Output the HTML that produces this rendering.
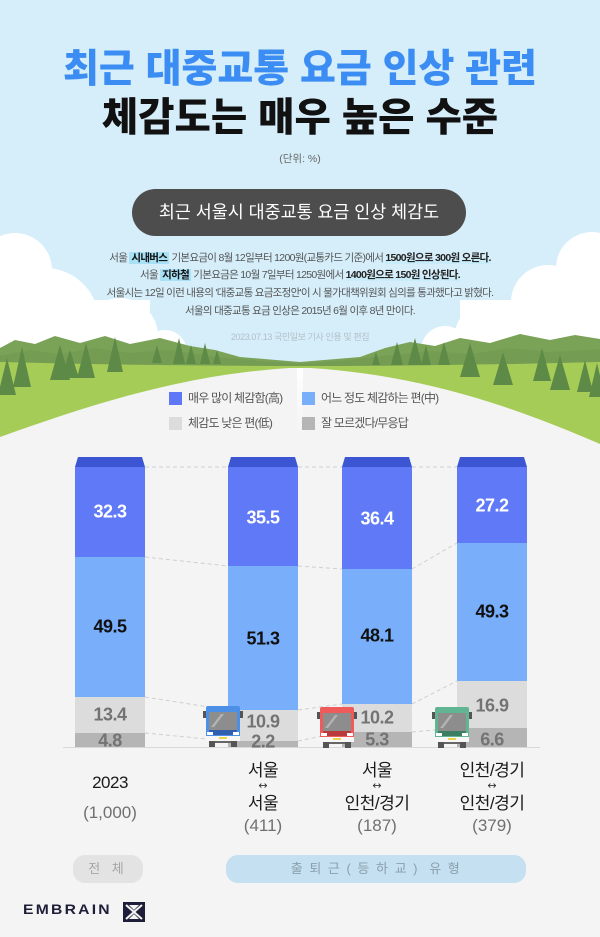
<!DOCTYPE html>
<html><head><meta charset="utf-8">
<style>
*{margin:0;padding:0;box-sizing:border-box}
html,body{width:600px;height:937px;overflow:hidden;background:#f4f4f4}
body{position:relative;font-family:"Liberation Sans","Noto Sans CJK KR",sans-serif}
.a{position:absolute;white-space:nowrap}
.c{left:0;width:600px;text-align:center}
.t1{top:50px;height:39px;line-height:39px;font-size:39px;font-weight:900;letter-spacing:0;color:#3b8df3}
.t2{top:98px;height:40px;line-height:40px;font-size:39.5px;font-weight:900;letter-spacing:0;color:#111}
.unit{top:152px;height:14px;line-height:14px;font-size:10.5px;color:#666}
.pill{left:132px;top:189px;width:334px;height:47px;border-radius:24px;background:#4d4d4d;color:#fff;font-size:17.4px;line-height:47px;text-align:center;letter-spacing:0}
.p{height:14px;line-height:14px;font-size:10.5px;color:#555;letter-spacing:-0.7px}
.p b{color:#222;font-weight:700}
.hl{background:#a8e0f6;padding:0 2px;color:#111;font-weight:700}
.ul{background:linear-gradient(transparent 62%,#c9ecfa 62%)}
.src{top:331px;height:12px;line-height:12px;font-size:9px;color:#b3c0c8;letter-spacing:-0.4px}
.lg{font-size:12px;color:#555;letter-spacing:-0.8px;height:14px;line-height:14px}
.cat{font-size:17px;color:#1a1a1a;text-align:center;width:120px;letter-spacing:-0.5px;height:20px;line-height:20px}
.num{font-size:17px;color:#707070;text-align:center;width:120px;height:20px;line-height:20px}
.arr{font-size:11px;color:#333;text-align:center;width:120px;height:12px;line-height:12px;font-family:"DejaVu Sans",sans-serif}
.fp{height:28px;line-height:28px;border-radius:12px;text-align:center;font-size:13px}
</style></head><body>
<svg class="a" style="left:0;top:0" width="600" height="937" viewBox="0 0 600 937">
<defs>
<linearGradient id="rg" x1="0" y1="0" x2="0" y2="1">
<stop offset="0" stop-color="#ffffff" stop-opacity="0.95"/>
<stop offset="1" stop-color="#ffffff" stop-opacity="0"/>
</linearGradient>
</defs>
<rect width="600" height="937" fill="#f4f4f4"/>
<rect width="600" height="445" fill="#d5eefa"/>
<g fill="#ffffff">
<circle cx="15" cy="270" r="37"/>
<circle cx="45" cy="322" r="54"/>
<circle cx="120" cy="336" r="38"/>
<circle cx="165" cy="352" r="22"/>
<rect x="0" y="300" width="150" height="80"/>
<circle cx="592" cy="268" r="36"/>
<circle cx="548" cy="302" r="37"/>
<circle cx="485" cy="335" r="30"/>
<circle cx="445" cy="350" r="24"/>
<rect x="460" y="300" width="140" height="80"/>
</g>
<path d="M0,348 L15,340 35,344 55,336 80,343 105,336 130,344 160,338 190,346 215,350 240,357 300,362 360,357 385,348 410,342 435,346 460,338 490,343 520,334 550,340 575,335 600,339 L600,380 L0,380 Z" fill="#7aa358"/>
<path d="M0,356 L30,350 60,354 95,348 130,353 170,350 210,356 250,360 300,364 350,360 390,355 430,351 470,354 510,348 550,352 600,349 L600,380 L0,380 Z" fill="#6f9a50" opacity="0.6"/>
<path d="M0,362 Q300,370 600,362 L600,470 L0,470 Z" fill="#a6cc58"/>
<g fill="#5e8a47">
<polygon points="7,358 -2,395 16,395"/>
<polygon points="22,347 13,387 31,387"/>
<polygon points="60,345 50,380 70,380"/>
<polygon points="70,350 61,378 79,378"/>
<polygon points="86,343 77,378 95,378"/>
<polygon points="115,337 107,372 123,372"/>
<polygon points="157,345 152,363 162,363"/>
<polygon points="179,338 173,364 185,364"/>
<polygon points="191,345 186,364 196,364"/>
<polygon points="205,343 200,364 210,364"/>
<polygon points="217,350 213,364 221,364"/>
<polygon points="376,352 372,365 380,365"/>
<polygon points="397,342 391,365 403,365"/>
<polygon points="415,338 408,365 422,365"/>
<polygon points="426,345 421,365 431,365"/>
<polygon points="444,342 438,365 450,365"/>
<polygon points="470,343 460,377 480,377"/>
<polygon points="503,352 493,385 513,385"/>
<polygon points="542,348 533,381 551,381"/>
<polygon points="560,355 550,390 570,390"/>
<polygon points="585,360 577,392 593,392"/>
<polygon points="597,363 589,397 605,397"/>
</g>
<path d="M0,437 C90,405 180,375 290,368 L310,368 C420,375 510,405 600,444 L600,937 L0,937 Z" fill="#f4f4f4"/>
<rect x="297" y="368" width="6" height="70" fill="url(#rg)"/>

<rect x="169" y="392" width="13" height="13" fill="#5f77f6"/>
<rect x="302" y="392" width="13" height="13" fill="#78aefa"/>
<rect x="169" y="417" width="13" height="13" fill="#dcdcdc"/>
<rect x="302" y="417" width="13" height="13" fill="#b5b5b5"/>

<g stroke="#cfcfcf" stroke-width="1" stroke-dasharray="4 3" fill="none">
<line x1="145" y1="467" x2="228" y2="467"/>
<line x1="145" y1="557" x2="228" y2="566"/>
<line x1="145" y1="697" x2="228" y2="710"/>
<line x1="145" y1="733" x2="228" y2="741"/>
<line x1="298" y1="467" x2="342" y2="467"/>
<line x1="298" y1="566" x2="342" y2="569"/>
<line x1="298" y1="710" x2="342" y2="704"/>
<line x1="298" y1="741" x2="342" y2="732"/>
<line x1="412" y1="467" x2="457" y2="467"/>
<line x1="412" y1="569" x2="457" y2="543"/>
<line x1="412" y1="704" x2="457" y2="681"/>
<line x1="412" y1="732" x2="457" y2="728"/>
</g>
<line x1="63" y1="747.5" x2="540" y2="747.5" stroke="#d8d8d8" stroke-width="1"/>

<g>
<polygon points="78,457 142,457 145,467 75,467" fill="#3b55d3"/>
<rect x="75" y="467" width="70" height="90" fill="#6079f7"/>
<rect x="75" y="557" width="70" height="140" fill="#78aefa"/>
<rect x="75" y="697" width="70" height="36" fill="#dcdcdc"/>
<rect x="75" y="733" width="70" height="14" fill="#b5b5b5"/>

<polygon points="231,457 295,457 298,467 228,467" fill="#3b55d3"/>
<rect x="228" y="467" width="70" height="99" fill="#6079f7"/>
<rect x="228" y="566" width="70" height="144" fill="#78aefa"/>
<rect x="228" y="710" width="70" height="31" fill="#dcdcdc"/>
<rect x="228" y="741" width="70" height="6" fill="#b5b5b5"/>

<polygon points="345,457 409,457 412,467 342,467" fill="#3b55d3"/>
<rect x="342" y="467" width="70" height="102" fill="#6079f7"/>
<rect x="342" y="569" width="70" height="135" fill="#78aefa"/>
<rect x="342" y="704" width="70" height="28" fill="#dcdcdc"/>
<rect x="342" y="732" width="70" height="15" fill="#b5b5b5"/>

<polygon points="460,457 524,457 527,467 457,467" fill="#3b55d3"/>
<rect x="457" y="467" width="70" height="76" fill="#6079f7"/>
<rect x="457" y="543" width="70" height="138" fill="#78aefa"/>
<rect x="457" y="681" width="70" height="47" fill="#dcdcdc"/>
<rect x="457" y="728" width="70" height="19" fill="#b5b5b5"/>
</g>

<g font-family="Liberation Sans, sans-serif" font-weight="bold" font-size="18" text-anchor="middle" letter-spacing="-0.5">
<text x="110" y="517.5" fill="#ffffff">32.3</text>
<text x="110" y="632.5" fill="#111111">49.5</text>
<text x="110" y="720.5" fill="#737373">13.4</text>
<text x="110" y="746.5" fill="#737373">4.8</text>
<text x="263" y="523.5" fill="#ffffff">35.5</text>
<text x="263" y="644.5" fill="#111111">51.3</text>
<text x="263" y="727.5" fill="#737373">10.9</text>
<text x="263" y="747.5" fill="#737373">2.2</text>
<text x="377" y="524.5" fill="#ffffff">36.4</text>
<text x="377" y="641.5" fill="#111111">48.1</text>
<text x="377" y="723.5" fill="#737373">10.2</text>
<text x="377" y="745.5" fill="#737373">5.3</text>
<text x="492" y="511.5" fill="#ffffff">27.2</text>
<text x="492" y="617.5" fill="#111111">49.3</text>
<text x="492" y="711.5" fill="#737373">16.9</text>
<text x="492" y="745.5" fill="#737373">6.6</text>
</g>

<g transform="translate(203,706)">
<rect x="0" y="5" width="3" height="7" fill="#555"/><rect x="37" y="5" width="3" height="7" fill="#555"/>
<rect x="3" y="0" width="34" height="35" rx="2" fill="#4b8fe6"/>
<rect x="6" y="6" width="28" height="18" fill="#8d8d8d"/>
<path d="M8,21 L18,8 L21,8 L11,21Z" fill="#b3b3b3"/>
<rect x="6" y="24" width="28" height="5" fill="#2f5fae"/>
<rect x="4" y="26" width="6" height="3" fill="#fff"/><rect x="30" y="26" width="6" height="3" fill="#fff"/>
<rect x="3" y="30" width="34" height="5" fill="#f7f7f7"/>
<rect x="16" y="31" width="8" height="2" fill="#eed24a"/>
<rect x="6" y="35" width="28" height="2" fill="#666"/>
<rect x="6" y="35" width="6" height="6" fill="#555"/><rect x="28" y="35" width="6" height="6" fill="#555"/>
</g>
<g transform="translate(317,707)">
<rect x="0" y="5" width="3" height="7" fill="#555"/><rect x="37" y="5" width="3" height="7" fill="#555"/>
<rect x="3" y="0" width="34" height="35" rx="2" fill="#ef5b5b"/>
<rect x="6" y="6" width="28" height="18" fill="#8d8d8d"/>
<path d="M8,21 L18,8 L21,8 L11,21Z" fill="#b3b3b3"/>
<rect x="6" y="24" width="28" height="5" fill="#b83a3a"/>
<rect x="4" y="26" width="6" height="3" fill="#fff"/><rect x="30" y="26" width="6" height="3" fill="#fff"/>
<rect x="3" y="30" width="34" height="5" fill="#f7f7f7"/>
<rect x="16" y="31" width="8" height="2" fill="#eed24a"/>
<rect x="6" y="35" width="28" height="2" fill="#666"/>
<rect x="6" y="35" width="6" height="6" fill="#555"/><rect x="28" y="35" width="6" height="6" fill="#555"/>
</g>
<g transform="translate(432,707)">
<rect x="0" y="5" width="3" height="7" fill="#555"/><rect x="37" y="5" width="3" height="7" fill="#555"/>
<rect x="3" y="0" width="34" height="35" rx="2" fill="#62b592"/>
<rect x="6" y="6" width="28" height="18" fill="#8d8d8d"/>
<path d="M8,21 L18,8 L21,8 L11,21Z" fill="#b3b3b3"/>
<rect x="6" y="24" width="28" height="5" fill="#3c7e62"/>
<rect x="4" y="26" width="6" height="3" fill="#fff"/><rect x="30" y="26" width="6" height="3" fill="#fff"/>
<rect x="3" y="30" width="34" height="5" fill="#f7f7f7"/>
<rect x="16" y="31" width="8" height="2" fill="#eed24a"/>
<rect x="6" y="35" width="28" height="2" fill="#666"/>
<rect x="6" y="35" width="6" height="6" fill="#555"/><rect x="28" y="35" width="6" height="6" fill="#555"/>
</g>

<g transform="translate(123,902)">
<rect x="0" y="0" width="22" height="20" fill="#1e1e38"/>
<path d="M3,3 L19,17 M19,3 L3,17" stroke="#f4f4f4" stroke-width="2"/>
<path d="M6,3 L16,3 L11,8Z" fill="#f4f4f4"/>
<path d="M6,17 L16,17 L11,12Z" fill="#f4f4f4"/>
</g>
</svg>

<div class="a c t1">최근 대중교통 요금 인상 관련</div>
<div class="a c t2">체감도는 매우 높은 수준</div>
<div class="a c unit">(단위: %)</div>
<div class="a pill">최근 서울시 대중교통 요금 인상 체감도</div>

<div class="a c p" style="top:251px">서울 <span class="hl">시내버스</span> 기본요금이 8월 12일부터 1200원(교통카드 기준)에서 <b class="ul">1500원으로 300원 오른다.</b></div>
<div class="a c p" style="top:268px">서울 <span class="hl">지하철</span> 기본요금은 10월 7일부터 1250원에서 <b class="ul">1400원으로 150원 인상된다.</b></div>
<div class="a c p" style="top:286px">서울시는 12일 이런 내용의 '대중교통 요금조정안'이 시 물가대책위원회 심의를 통과했다고 밝혔다.</div>
<div class="a c p" style="top:304px">서울의 대중교통 요금 인상은 2015년 6월 이후 8년 만이다.</div>
<div class="a c src">2023.07.13 국민일보 기사 인용 및 편집</div>

<div class="a lg" style="left:188px;top:391px">매우 많이 체감함(高)</div>
<div class="a lg" style="left:321px;top:391px">어느 정도 체감하는 편(中)</div>
<div class="a lg" style="left:188px;top:416px">체감도 낮은 편(低)</div>
<div class="a lg" style="left:321px;top:416px">잘 모르겠다/무응답</div>

<div class="a cat" style="left:50px;top:773px">2023</div>
<div class="a num" style="left:50px;top:803px">(1,000)</div>

<div class="a cat" style="left:203px;top:761px">서울</div>
<div class="a arr" style="left:203px;top:780px">↔</div>
<div class="a cat" style="left:203px;top:794px">서울</div>
<div class="a num" style="left:203px;top:816px">(411)</div>

<div class="a cat" style="left:317px;top:761px">서울</div>
<div class="a arr" style="left:317px;top:780px">↔</div>
<div class="a cat" style="left:317px;top:794px">인천/경기</div>
<div class="a num" style="left:317px;top:816px">(187)</div>

<div class="a cat" style="left:432px;top:761px">인천/경기</div>
<div class="a arr" style="left:432px;top:780px">↔</div>
<div class="a cat" style="left:432px;top:794px">인천/경기</div>
<div class="a num" style="left:432px;top:816px">(379)</div>

<div class="a fp" style="left:73px;top:855px;width:70px;background:#e3e3e3;color:#a5a5a5;letter-spacing:4px">전 체</div>
<div class="a fp" style="left:226px;top:855px;width:300px;background:#c4e0f1;color:#8b9eac;letter-spacing:1.5px">출 퇴 근 ( 등 하 교 )&nbsp;&nbsp;유 형</div>

<div class="a" style="left:23px;top:902px;height:14px;line-height:14px;font-size:14px;font-weight:bold;color:#1e1e38;letter-spacing:2px;transform:scaleX(1.12);transform-origin:left center">EMBRAIN</div>
</body></html>
